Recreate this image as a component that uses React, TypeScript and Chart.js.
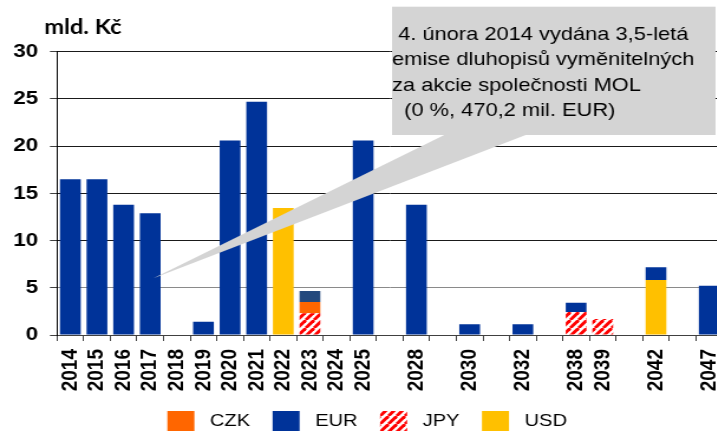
import { useEffect, useRef } from 'react';
import { Chart, registerables } from 'chart.js';

Chart.register(...registerables);

// ---------- data ----------
const categories = [
  '2014', '2015', '2016', '2017', '2018', '2019', '2020', '2021', '2022', '2023',
  '2024', '2025', '', '2028', '', '2030', '', '2032', '', '2038', '2039', '', '2042', '', '2047',
];
const jpyValues = [
  null, null, null, null, null, null, null, null, null, 2.3,
  null, null, null, null, null, null, null, null, null, 2.44, 1.7, null, null, null, null,
];
const usdValues = [
  null, null, null, null, null, null, null, null, 13.45, null,
  null, null, null, null, null, null, null, null, null, null, null, null, 5.83, null, null,
];
const czkValues = [
  null, null, null, null, null, null, null, null, null, 1.2,
  null, null, null, null, null, null, null, null, null, null, null, null, null, null, null,
];
const eurValues = [
  16.5, 16.5, 13.8, 12.9, null, 1.4, 20.6, 24.7, null, 1.16,
  null, 20.6, null, 13.8, null, 1.13, null, 1.13, null, 0.98, null, null, 1.34, null, 5.22,
];
const yTickValues = [0, 5, 10, 15, 20, 25, 30];
const unitTitle = 'mld. Kč';
const calloutLines = [
  ' 4. února 2014 vydána 3,5-letá',
  'emise dluhopisů vyměnitelných',
  'za akcie společnosti MOL',
  '  (0 %, 470,2 mil. EUR)',
];
// callout points at the 2017 bar (category index 3) at about 6 bn
const calloutTarget = { index: 3, shift: 0.12, value: 6 };

// ---------- styles ----------
const SX = 1.18; // horizontal stretch of the reference picture
const W = 614;
const H = 441;
const EUR_COLOR = '#003399';
const EUR_2023_COLOR = '#24497D';
const USD_COLOR = '#FFC000';
const CZK_COLOR = '#FF6600';
const CALLOUT_FILL = '#d4d4d4';
const FONT = "'Liberation Sans', Arial, sans-serif";
const BOX = { left: 332, right: 606, top: 6.7, bottom: 135, wedgeLeft: 377.1, wedgeRight: 446.3 };

function makeStripePattern(): CanvasPattern | string {
  const tile = document.createElement('canvas');
  tile.width = 7;
  tile.height = 8;
  const c = tile.getContext('2d');
  if (!c) return '#ff0000';
  c.fillStyle = '#ffffff';
  c.fillRect(0, 0, 7, 8);
  c.strokeStyle = '#ff0000';
  c.lineWidth = 2.8;
  for (let k = -1; k <= 1; k++) {
    c.beginPath();
    c.moveTo(k * 7, 8);
    c.lineTo(k * 7 + 7, 0);
    c.stroke();
  }
  return c.createPattern(tile, 'repeat') ?? '#ff0000';
}

const overlayPlugin = {
  id: 'overlay',
  afterDatasetsDraw(chart: any) {
    const ctx: CanvasRenderingContext2D = chart.ctx;
    const xs = chart.scales.x;
    const ys = chart.scales.y;
    const step = xs.getPixelForValue(1) - xs.getPixelForValue(0);
    const tipX = xs.getPixelForValue(calloutTarget.index) + calloutTarget.shift * step;
    const tipY = ys.getPixelForValue(calloutTarget.value);
    ctx.save();
    ctx.fillStyle = CALLOUT_FILL;
    ctx.beginPath();
    ctx.moveTo(BOX.wedgeLeft, BOX.bottom - 0.5);
    ctx.lineTo(BOX.wedgeRight, BOX.bottom - 0.5);
    ctx.lineTo(tipX, tipY);
    ctx.closePath();
    ctx.fill();
    ctx.fillRect(BOX.left, BOX.top, BOX.right - BOX.left, BOX.bottom - BOX.top);
    ctx.fillStyle = '#000';
    ctx.font = `18.5px ${FONT}`;
    ctx.textBaseline = 'alphabetic';
    ctx.textAlign = 'left';
    const baselines = [39.5, 65, 90.5, 116];
    calloutLines.forEach((line, i) => ctx.fillText(line, BOX.left, baselines[i]));
    ctx.font = "bold 20px Lato, 'Liberation Sans', sans-serif";
    ctx.fillText(unitTitle, 37.5, 34);
    ctx.restore();
  },
};

export default function App() {
  const canvasRef = useRef<HTMLCanvasElement | null>(null);

  useEffect(() => {
    const canvas = canvasRef.current;
    if (!canvas) return;
    const jpyPattern = makeStripePattern();
    const names = ['JPY', 'USD', 'CZK', 'EUR'];
    const legendFills: any[] = [jpyPattern, USD_COLOR, CZK_COLOR, EUR_COLOR];
    const chart = new Chart(canvas, {
      type: 'bar',
      data: {
        labels: categories,
        datasets: [
          { label: 'JPY', data: jpyValues, backgroundColor: jpyPattern as any },
          { label: 'USD', data: usdValues, backgroundColor: USD_COLOR },
          { label: 'CZK', data: czkValues, backgroundColor: CZK_COLOR },
          {
            label: 'EUR',
            data: eurValues,
            backgroundColor: categories.map((c) => (c === '2023' ? EUR_2023_COLOR : EUR_COLOR)),
          },
        ],
      },
      options: {
        responsive: false,
        animation: false,
        events: [],
        layout: { padding: { left: 10, right: 2.1, top: 51.7, bottom: 0 } },
        datasets: { bar: { categoryPercentage: 1, barPercentage: 0.78, borderWidth: 0 } },
        scales: {
          x: {
            stacked: true,
            grid: {
              display: true,
              drawOnChartArea: false,
              drawTicks: true,
              tickLength: 6,
              tickColor: '#404040',
              offset: true,
            },
            border: { display: true, color: '#404040', width: 1 },
            ticks: {
              autoSkip: false,
              minRotation: 90,
              maxRotation: 90,
              padding: 8,
              color: '#000',
              font: { family: FONT, size: 19, weight: 'bold' },
            },
            afterFit: (s: any) => {
              s.height = 57;
              s.paddingLeft = 0;
              s.paddingRight = 0;
            },
          },
          y: {
            stacked: true,
            min: 0,
            max: 30,
            afterBuildTicks: (s: any) => {
              s.ticks = yTickValues.map((v) => ({ value: v }));
            },
            grid: {
              display: true,
              drawOnChartArea: true,
              drawTicks: true,
              tickLength: 6,
              tickColor: '#404040',
              lineWidth: 1,
              color: (c: any) => {
                const v = c.tick ? c.tick.value : null;
                if (v === 5) return '#8a8a8a';
                if (v === 0) return '#404040';
                return '#1a1a1a';
              },
            },
            border: { display: true, color: '#000', width: 1 },
            ticks: {
              padding: 10,
              color: '#000',
              font: { family: FONT, size: 19, weight: 'bold' },
            },
            afterFit: (s: any) => {
              s.width = 38.3;
              s.paddingTop = 0;
              s.paddingBottom = 0;
            },
          },
        },
        plugins: {
          tooltip: { enabled: false },
          title: { display: false },
          legend: {
            display: true,
            position: 'bottom',
            labels: {
              boxWidth: 22.9,
              boxHeight: 20,
              padding: 19,
              color: '#000',
              font: { family: FONT, size: 17 },
              generateLabels: () =>
                names.map((n, i) => ({
                  text: ' ' + n,
                  fillStyle: legendFills[i],
                  strokeStyle: 'rgba(0,0,0,0)',
                  lineWidth: 0,
                  hidden: false,
                  datasetIndex: i,
                  fontColor: '#000',
                })),
              sort: (a: any, b: any) => (a.text < b.text ? -1 : a.text > b.text ? 1 : 0),
            },
          },
        },
      },
      plugins: [overlayPlugin],
    } as any);
    return () => chart.destroy();
  }, []);

  return (
    <div
      style={{
        position: 'fixed',
        left: 0,
        top: 0,
        width: 717,
        height: 432,
        overflow: 'hidden',
        background: '#fff',
      }}
    >
      <canvas
        ref={canvasRef}
        width={W}
        height={H}
        style={{ width: `${W * SX}px`, height: `${H}px`, display: 'block' }}
      />
    </div>
  );
}
